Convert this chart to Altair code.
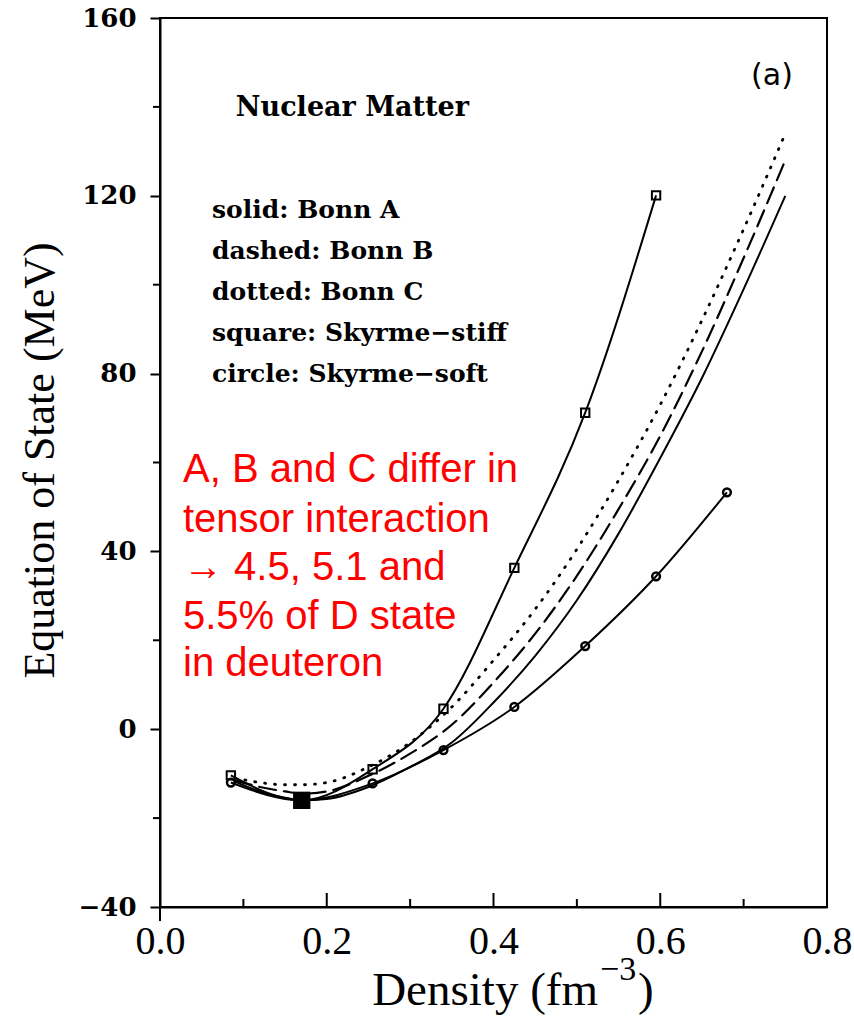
import altair as alt
import pandas as pd

# ---- data ----
bonn_x = [0.09, 0.12, 0.15, 0.17, 0.20, 0.25, 0.30, 0.35, 0.40, 0.45, 0.50, 0.55, 0.60, 0.65, 0.70, 0.75]
bonn_a = [-11.8, -14.0, -15.4, -16.0, -15.7, -13.0, -8.5, -3.0, 6.0, 16.5, 29.0, 44.0, 61.0, 79.0, 99.0, 120.0]
bonn_b = [-11.5, -13.0, -14.0, -14.5, -14.0, -10.5, -5.5, 1.0, 10.5, 21.5, 34.5, 49.5, 66.0, 85.0, 106.0, 128.0]
bonn_c = [-11.0, -12.0, -12.5, -12.5, -12.0, -8.5, -3.0, 5.0, 15.5, 27.0, 40.5, 56.0, 73.0, 92.0, 112.5, 134.0]

stiff_x = [0.085, 0.17, 0.255, 0.34, 0.425, 0.51, 0.595]
stiff_y = [-10.4, -16.0, -9.0, 4.6, 36.3, 71.2, 120.1]
soft_x = [0.085, 0.17, 0.255, 0.34, 0.425, 0.51, 0.595, 0.68]
soft_y = [-12.0, -16.0, -12.2, -4.7, 5.0, 18.7, 34.4, 53.3]

sat_x = [0.17]
sat_y = [-16.0]

legend_lines = ["solid: Bonn A", "dashed: Bonn B", "dotted: Bonn C",
                "square: Skyrme\u2212stiff", "circle: Skyrme\u2212soft"]
legend_y = [116.8, 107.5, 98.3, 89.1, 79.9]
note_lines = ["A, B and C differ in", "tensor interaction", "\u2192 4.5, 5.1 and",
              "5.5% of D state", "in deuteron"]
note_y = [58.3, 47.0, 36.2, 25.2, 14.6]

y_minor = [-20, 20, 60, 100, 140]
x_major = [0.2, 0.4, 0.6]
x_minor = [0.1, 0.3, 0.5, 0.7]

W, H = 667, 889

xs = alt.Scale(domain=[0.0, 0.8], nice=False, zero=False)
ys = alt.Scale(domain=[-40, 160], nice=False, zero=False)

xaxis = alt.Axis(values=[0.0, 0.2, 0.4, 0.6, 0.8], format=".1f", ticks=False, grid=False,
                 labelFont="Liberation Serif", labelFontSize=40, labelColor="black",
                 labelFlush=False, labelPadding=14, domainColor="black", domainWidth=2, title=None)
yaxis = alt.Axis(values=[-40, 0, 40, 80, 120, 160], ticks=True, tickSize=10, tickWidth=2,
                 tickColor="black", grid=False, labelFont="DejaVu Serif", labelFontWeight="bold",
                 labelFontSize=26, labelColor="black", labelPadding=14, labelFlush=False,
                 domainColor="black", domainWidth=2,
                 title="Equation of State (MeV)", titleFont="Liberation Serif", titleFontSize=44,
                 titleFontWeight="normal", titleColor="black", titleAngle=-90,
                 titleX=-120, titleY=442, titleBaseline="middle", titleAlign="center")

def line(xv, yv, dash=None, width=2.0, interp="monotone"):
    df = pd.DataFrame({"x": xv, "y": yv})
    kw = dict(color="black", strokeWidth=width, interpolate=interp, clip=False)
    if dash is not None:
        kw["strokeDash"] = dash
        kw["strokeCap"] = "round"
    return alt.Chart(df).mark_line(**kw).encode(
        x=alt.X("x:Q", scale=xs, axis=xaxis),
        y=alt.Y("y:Q", scale=ys, axis=yaxis))

layers = [
    line(bonn_x, bonn_a),
    line(bonn_x, bonn_b, dash=[17, 8], width=2.2),
    line(bonn_x, bonn_c, dash=[1, 9], width=2.8),
    line(stiff_x, stiff_y),
    line(soft_x, soft_y),
]

stiff_df = pd.DataFrame({"x": stiff_x, "y": stiff_y})
soft_df = pd.DataFrame({"x": soft_x, "y": soft_y})
sat_df = pd.DataFrame({"x": sat_x, "y": sat_y})

layers.append(alt.Chart(stiff_df).mark_point(shape="square", size=70, filled=False,
                                              color="black", strokeWidth=2, opacity=1).encode(
    x=alt.X("x:Q", scale=xs), y=alt.Y("y:Q", scale=ys)))
layers.append(alt.Chart(soft_df).mark_point(shape="circle", size=60, filled=False,
                                             color="black", strokeWidth=2.5, opacity=1).encode(
    x=alt.X("x:Q", scale=xs), y=alt.Y("y:Q", scale=ys)))
layers.append(alt.Chart(sat_df).mark_point(shape="square", size=300, filled=True,
                                            color="black", opacity=1).encode(
    x=alt.X("x:Q", scale=xs), y=alt.Y("y:Q", scale=ys)))

# minor ticks on y (outward)
ymin_df = pd.DataFrame({"y": y_minor})
layers.append(alt.Chart(ymin_df).mark_rule(color="black", strokeWidth=2, clip=False).encode(
    x=alt.value(-7), x2=alt.value(0), y=alt.Y("y:Q", scale=ys)))
# x ticks pointing inward
xmaj_df = pd.DataFrame({"x": x_major})
layers.append(alt.Chart(xmaj_df).mark_rule(color="black", strokeWidth=2).encode(
    x=alt.X("x:Q", scale=xs), y=alt.value(H), y2=alt.value(H - 14)))
xmin_df = pd.DataFrame({"x": x_minor})
layers.append(alt.Chart(xmin_df).mark_rule(color="black", strokeWidth=2).encode(
    x=alt.X("x:Q", scale=xs), y=alt.value(H), y2=alt.value(H - 8)))
# y axis line extends a little below the x axis at 0.0
layers.append(alt.Chart(pd.DataFrame({"x": [0.0]})).mark_rule(color="black", strokeWidth=2, clip=False).encode(
    x=alt.X("x:Q", scale=xs), y=alt.value(H), y2=alt.value(H + 14)))

# texts
layers.append(alt.Chart(pd.DataFrame({"x": [0.091], "y": [139.7], "t": ["Nuclear Matter"]}))
              .mark_text(font="DejaVu Serif", fontWeight="bold", fontSize=27, align="left",
                         baseline="middle", color="black")
              .encode(x=alt.X("x:Q", scale=xs), y=alt.Y("y:Q", scale=ys), text="t:N"))
layers.append(alt.Chart(pd.DataFrame({"x": [0.0624] * len(legend_lines), "y": legend_y, "t": legend_lines}))
              .mark_text(font="DejaVu Serif", fontWeight="bold", fontSize=25, align="left",
                         baseline="middle", color="black")
              .encode(x=alt.X("x:Q", scale=xs), y=alt.Y("y:Q", scale=ys), text="t:N"))
layers.append(alt.Chart(pd.DataFrame({"x": [0.734], "y": [146.9], "t": ["(a)"]}))
              .mark_text(font="DejaVu Sans", fontSize=30, align="center",
                         baseline="middle", color="black")
              .encode(x=alt.X("x:Q", scale=xs), y=alt.Y("y:Q", scale=ys), text="t:N"))
layers.append(alt.Chart(pd.DataFrame({"x": [0.0276] * len(note_lines), "y": note_y, "t": note_lines}))
              .mark_text(font="Liberation Sans", fontSize=40, align="left",
                         baseline="middle", color="#ff0000")
              .encode(x=alt.X("x:Q", scale=xs), y=alt.Y("y:Q", scale=ys), text="t:N"))

# x axis title with superscript
layers.append(alt.Chart(pd.DataFrame({"t": ["Density (fm"]}))
              .mark_text(font="Liberation Serif", fontSize=47, align="right",
                         baseline="alphabetic", color="black", clip=False)
              .encode(x=alt.value(438), y=alt.value(987), text="t:N"))
layers.append(alt.Chart(pd.DataFrame({"t": ["\u22123"]}))
              .mark_text(font="Liberation Serif", fontSize=34, align="left",
                         baseline="alphabetic", color="black", clip=False)
              .encode(x=alt.value(440), y=alt.value(962), text="t:N"))
layers.append(alt.Chart(pd.DataFrame({"t": [")"]}))
              .mark_text(font="Liberation Serif", fontSize=47, align="left",
                         baseline="alphabetic", color="black", clip=False)
              .encode(x=alt.value(478), y=alt.value(987), text="t:N"))

chart = alt.layer(*layers).properties(
    width=W, height=H,
    autosize=alt.AutoSizeParams(type="none"),
    padding={"left": 160, "top": 18, "right": 27, "bottom": 114},
    background="white",
).configure_view(stroke="black", strokeWidth=2)

chart.save("out.html", embed_options={"renderer": "svg", "actions": False})
